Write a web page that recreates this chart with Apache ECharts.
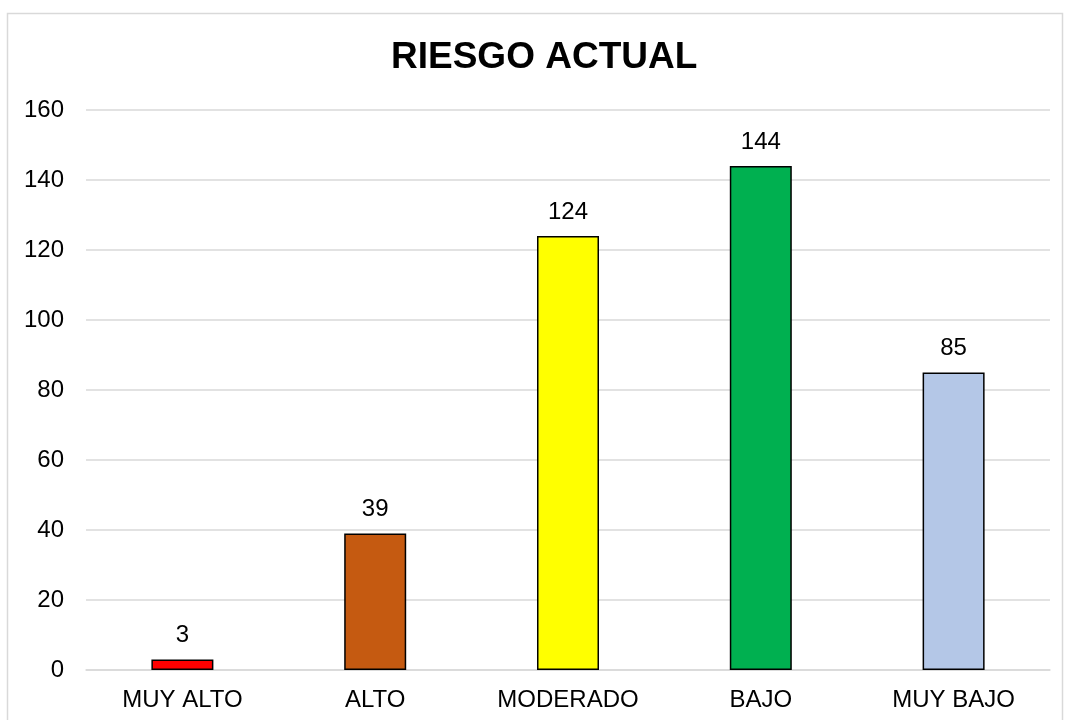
<!DOCTYPE html>
<html><head><meta charset="utf-8">
<script src="https://cdn.jsdelivr.net/npm/echarts@6/dist/echarts.min.js"></script>
<style>html,body{margin:0;padding:0;background:#fff}#c{width:1067px;height:720px}</style>
</head><body><div id="c"></div>
<script>
const categories = ['MUY ALTO', 'ALTO', 'MODERADO', 'BAJO', 'MUY BAJO'];
const values = [3, 39, 124, 144, 85];
const barColors = ['#FF0000', '#C55A11', '#FFFF00', '#00B050', '#B4C7E7'];
const yTicks = { min: 0, max: 160, interval: 20 };

const chart = echarts.init(document.getElementById('c'));
const font = '"Liberation Sans", Arial, sans-serif';
chart.setOption({
  animation: false,
  graphic: [{ type: 'rect', shape: { x: 7.5, y: 13.5, width: 1055, height: 720 },
    style: { fill: 'none', stroke: '#d9d9d9', lineWidth: 1.5 }, silent: true }],
  title: { text: 'RIESGO ACTUAL', left: 386, top: 34,
    textStyle: { fontFamily: font, fontSize: 37, fontWeight: 'bold', color: '#000' } },
  grid: { left: 86, right: 17, top: 110, bottom: 50, containLabel: false },
  xAxis: { type: 'category', data: categories,
    axisLine: { show: true, lineStyle: { color: '#d9d9d9', width: 1.5 } },
    axisTick: { show: false },
    axisLabel: { fontFamily: font, fontSize: 24, color: '#000', margin: 18 } },
  yAxis: { type: 'value', min: yTicks.min, max: yTicks.max, interval: yTicks.interval,
    axisLine: { show: false }, axisTick: { show: false },
    splitLine: { lineStyle: { color: '#d9d9d9', width: 1.5 } },
    axisLabel: { fontFamily: font, fontSize: 24, color: '#000', margin: 22 } },
  series: [{ type: 'bar', barWidth: 62,
    data: values.map((v, i) => ({ value: v, itemStyle: { color: barColors[i] } })),
    itemStyle: { borderColor: '#000', borderWidth: 1.5 },
    label: { show: true, position: 'top', distance: 12, fontFamily: font, fontSize: 24, color: '#000' } }]
});
</script></body></html>
